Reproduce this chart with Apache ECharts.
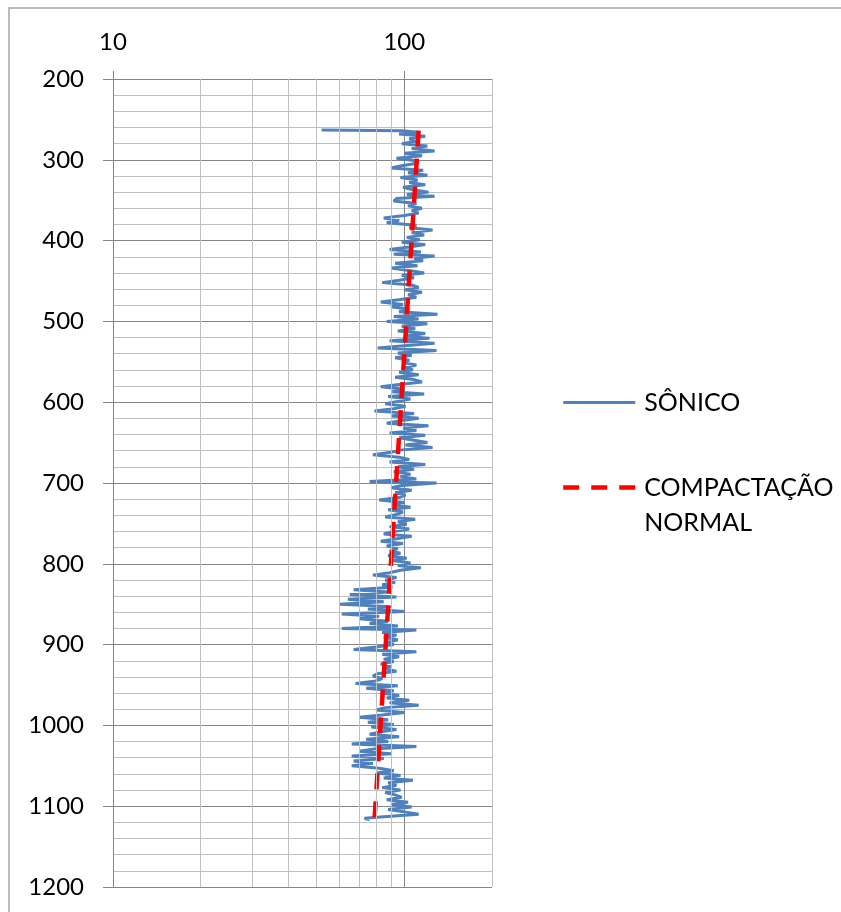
<!DOCTYPE html>
<html>
<head>
<meta charset="utf-8">
<script src="https://cdn.jsdelivr.net/npm/echarts@6/dist/echarts.min.js"></script>
<style>
  html, body { margin: 0; padding: 0; background: #fff; }
  #chart { width: 841px; height: 912px; }
</style>
</head>
<body>
<div id="chart"></div>
<script>
// perfil sônico: [profundidade, tempo de trânsito]
const sonicLog = [
  [263, 52], [264, 98], [266, 112], [268, 96], [271, 118], [274, 104], [277, 110], [280, 98], [283, 120], [286, 106],
  [289, 127], [292, 100], [295, 115], [298, 94], [301, 108], [304, 112], [307, 99], [310, 90], [313, 116], [316, 103],
  [319, 120], [322, 97], [325, 111], [328, 104], [331, 118], [334, 99], [337, 107], [340, 121], [343, 102], [345, 127],
  [348, 94], [351, 92], [354, 110], [357, 103], [360, 115], [363, 106], [366, 112], [369, 100], [372, 85], [375, 96],
  [378, 87], [381, 110], [384, 104], [387, 125], [390, 106], [393, 117], [396, 102], [399, 113], [402, 98], [405, 118],
  [408, 104], [411, 89], [414, 114], [417, 92], [419, 127], [422, 108], [425, 116], [428, 93], [431, 111], [434, 90],
  [437, 104], [440, 117], [443, 98], [446, 108], [449, 96], [452, 84], [455, 106], [458, 112], [461, 100], [464, 115],
  [467, 103], [470, 110], [473, 97], [476, 83], [479, 99], [482, 90], [485, 104], [488, 96], [491, 130], [494, 92],
  [497, 112], [500, 87], [503, 120], [506, 98], [509, 109], [512, 95], [515, 118], [518, 102], [521, 122], [524, 89],
  [527, 127], [530, 100], [533, 81], [536, 129], [539, 95], [542, 106], [545, 93], [548, 104], [551, 99], [554, 110],
  [557, 101], [560, 107], [563, 96], [566, 112], [569, 93], [572, 108], [575, 115], [578, 96], [581, 83], [584, 100],
  [587, 91], [590, 117], [593, 88], [596, 105], [599, 95], [602, 86], [605, 101], [608, 92], [611, 79], [614, 108],
  [617, 90], [620, 112], [623, 97], [626, 87], [629, 121], [632, 99], [635, 110], [638, 89], [641, 118], [644, 96],
  [647, 108], [650, 120], [653, 101], [656, 125], [659, 98], [662, 90], [665, 78], [668, 96], [671, 104], [674, 89],
  [677, 118], [680, 95], [683, 108], [686, 92], [689, 105], [692, 97], [695, 110], [698, 76], [700, 129], [703, 98],
  [706, 90], [709, 106], [712, 93], [715, 101], [718, 96], [721, 82], [724, 100], [727, 91], [730, 105], [733, 88],
  [736, 99], [739, 94], [742, 86], [745, 109], [748, 95], [751, 102], [754, 89], [757, 104], [760, 92], [763, 85],
  [766, 106], [769, 94], [772, 83], [775, 99], [778, 87], [781, 95], [784, 90], [787, 97], [790, 88], [793, 102],
  [796, 91], [799, 105], [802, 95], [805, 114], [808, 97], [811, 89], [814, 78], [817, 94], [820, 86], [823, 93],
  [826, 84], [829, 91], [832, 67], [835, 88], [838, 65], [841, 94], [844, 64], [847, 85], [850, 60], [853, 90],
  [856, 75], [859, 100], [862, 61], [865, 82], [868, 70], [871, 88], [874, 76], [877, 95], [880, 61], [882, 110],
  [885, 84], [888, 94], [891, 85], [894, 95], [897, 88], [900, 92], [903, 80], [906, 67], [909, 110], [912, 84],
  [915, 96], [918, 85], [921, 92], [924, 83], [927, 90], [930, 86], [933, 94], [936, 81], [939, 78], [942, 84],
  [945, 80], [948, 68], [951, 95], [954, 74], [957, 92], [960, 83], [963, 96], [966, 87], [969, 104], [972, 89],
  [975, 112], [978, 86], [981, 80], [984, 100], [987, 84], [990, 70], [993, 88], [996, 75], [999, 92], [1002, 77],
  [1005, 94], [1008, 83], [1011, 76], [1014, 96], [1017, 74], [1020, 88], [1023, 66], [1026, 110], [1029, 80], [1032, 70],
  [1035, 90], [1038, 66], [1041, 85], [1044, 67], [1047, 78], [1050, 66], [1053, 82], [1056, 92], [1059, 80], [1062, 97],
  [1065, 85], [1068, 107], [1071, 88], [1074, 94], [1077, 84], [1080, 97], [1083, 86], [1086, 93], [1089, 98], [1092, 87],
  [1095, 103], [1098, 90], [1101, 106], [1104, 88], [1107, 100], [1110, 112], [1113, 85], [1115, 73], [1117, 76]
]

// tendência de compactação normal: [profundidade, valor]
const normalTrend = [[264, 112], [1117, 79]]

// linhas de grade secundárias do eixo log
const minorGridX = [20, 30, 40, 50, 60, 70, 80, 90, 200]

const darkGrid = '#868686'
const lightGrid = '#c0c0c0'
const fontFamily = 'Lato, "Open Sans", sans-serif'

const chart = echarts.init(document.getElementById('chart'))

chart.setOption({
    animation: false,
    backgroundColor: '#fff',
    graphic: [{
        type: 'rect',
        shape: { x: 9, y: 8, width: 850, height: 920 },
        style: { fill: 'none', stroke: '#a6a6a6', lineWidth: 1.5 },
        silent: true
    }],
    legend: {
        orient: 'vertical',
        left: 561,
        top: 385,
        padding: 0,
        itemWidth: 72,
        itemHeight: 14,
        itemGap: 15,
        itemStyle: { opacity: 0 },
        textStyle: {
            fontFamily: fontFamily,
            fontSize: 25,
            color: '#000',
            lineHeight: 35,
            padding: [0, 0, 0, 4]
        },
        data: [
            { name: 'SÔNICO', lineStyle: { width: 3 } },
            { name: 'COMPACTAÇÃO NORMAL', lineStyle: { width: 4.5 } }
        ],
        formatter: function (name) {
            // linha vazia no topo para alinhar o ícone com a primeira linha
            return name === 'COMPACTAÇÃO NORMAL' ? ' \nCOMPACTAÇÃO\nNORMAL' : name
        }
    },
    grid: {
        left: 113,
        top: 79,
        width: 379,
        height: 808
    },
    xAxis: {
        type: 'log',
        logBase: 10,
        min: 10,
        max: 200,
        position: 'top',
        axisLine: { show: true, lineStyle: { color: darkGrid } },
        axisTick: { show: true, inside: false, length: 8, lineStyle: { color: darkGrid } },
        axisLabel: {
            margin: 25,
            fontFamily: fontFamily,
            fontSize: 24,
            color: '#000',
            showMaxLabel: false
        },
        splitLine: { show: true, lineStyle: { color: [darkGrid, darkGrid, lightGrid] } }
    },
    yAxis: {
        type: 'value',
        inverse: true,
        min: 200,
        max: 1200,
        interval: 100,
        axisLine: { show: true, lineStyle: { color: darkGrid } },
        axisTick: { show: true, length: 10, lineStyle: { color: darkGrid } },
        axisLabel: {
            margin: 29,
            fontFamily: fontFamily,
            fontSize: 24,
            color: '#000',
            formatter: function (v) { return String(v) }
        },
        splitLine: { show: true, lineStyle: { color: darkGrid } },
        minorTick: { show: false, splitNumber: 5 },
        minorSplitLine: { show: true, lineStyle: { color: lightGrid } }
    },
    series: [
        {
            type: 'line',
            z: 1,
            data: [],
            silent: true,
            markLine: {
                silent: true,
                symbol: 'none',
                label: { show: false },
                lineStyle: { color: lightGrid, type: 'solid', width: 1 },
                data: minorGridX.map(v => ({ xAxis: v }))
            }
        },
        {
            name: 'SÔNICO',
            type: 'line',
            z: 2,
            symbol: 'none',
            data: sonicLog.map(p => [p[1], p[0]]),
            lineStyle: { color: '#4f81bd', width: 3 },
            itemStyle: { color: '#4f81bd' }
        },
        {
            name: 'COMPACTAÇÃO NORMAL',
            type: 'line',
            z: 3,
            symbol: 'none',
            data: normalTrend.map(p => [p[1], p[0]]),
            lineStyle: { color: '#ff0000', width: 4.5, type: [16, 12] },
            itemStyle: { color: '#ff0000' }
        }
    ]
})
</script>
</body>
</html>
